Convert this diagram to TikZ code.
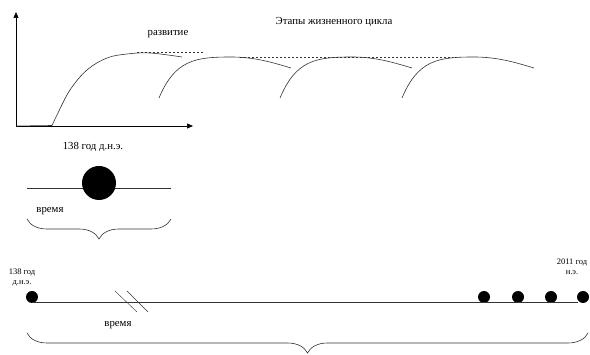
\documentclass[tikz,border=0pt]{standalone}
\usepackage{fontspec}
\setmainfont{Liberation Serif}
\usetikzlibrary{arrows.meta, decorations.pathreplacing}

\tikzset{
  curve/.style={black!80,semithick},
  guide/.style={black!80,dashed,dash pattern=on 2pt off 2pt},
  dot/.style={circle,fill=black,inner sep=0pt,minimum size=#1},
  label/.style={font=\fontsize{10.8}{12}\selectfont},
  tiny/.style={font=\fontsize{8.5}{10}\selectfont,align=center},
  brace/.style={decorate,decoration={brace,mirror,amplitude=#1},black!80,semithick}
}

\begin{document}
\begin{tikzpicture}[x=1pt,y=-1pt]
\useasboundingbox (0,0) rectangle (590,355);
% axes
\coordinate (o) at (16,126);
\draw[semithick,-{Triangle[length=6pt,width=5pt]}] (o) -- (16,12);
\draw[semithick,-{Triangle[length=6pt,width=5pt]}] (o) -- (193,126);
% first curve (development)
\draw[curve] (o) -- (52,125.5) plot[smooth,tension=0.6] coordinates
  {(52,125.5) (57,115) (70,90) (87,70) (107,58) (127,54) (150,53) (182,57)};
\draw[guide] (137,52) -- (203,52);
\node[label] (dev) at (168,34) {развитие};
% next life cycles
\foreach \s in {159,280,402}
  \draw[curve] (\s,98) .. controls (\s+16,60) and (\s+36,57) .. (\s+72,57)
    .. controls (\s+95,57) and (\s+112,62) .. (\s+132,68);
\draw[guide] (240,57) -- (453,57);
\node[label] (title) at (334,22) {Этапы жизненного цикла};

% the one moment
\node[label] (bc) at (93,147) {138 год д.н.э.};
\coordinate (l1) at (27,188);
\coordinate (r1) at (171,188);
\draw[semithick,black!80] (l1) -- (r1);
\node[dot=34pt] (big) at (99,183) {};
\node[label] (t1) at (50,211) {время};
\draw[brace=20pt] (27,219) -- (171,219);

% the whole timeline
\node[tiny] (start) at (22,277) {138 год\\д.н.э.};
\node[tiny] (end) at (572,267) {2011 год\\н.э.};
\node[dot=12pt] (d0) at (32,297) {};
\foreach \x [count=\i] in {484,518,551,583}
  \node[dot=12pt] (d\i) at (\x,297) {};
\draw[semithick,black!80] (32,302) -- (578,302);
\draw[black!80] (115,291) -- (137,312);
\draw[black!80] (127,291) -- (148,312);
\node[label] (t2) at (118,325) {время};
\draw[brace=20pt] (27,333) -- (588,333);
\end{tikzpicture}
\end{document}
